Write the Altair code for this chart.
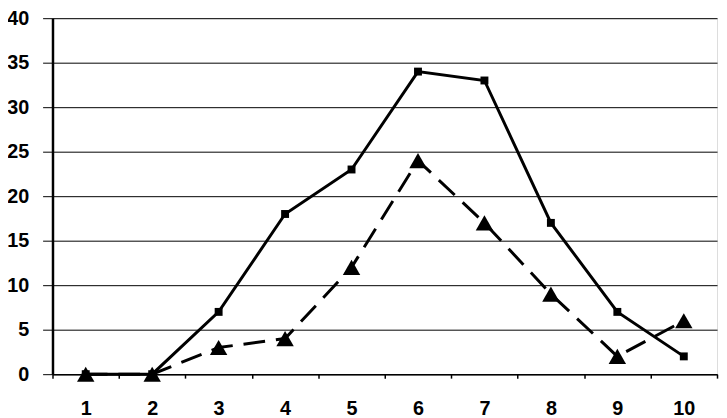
import altair as alt
import pandas as pd

cats = ["1", "2", "3", "4", "5", "6", "7", "8", "9", "10"]
solid_vals = [0, 0, 7, 18, 23, 34, 33, 17, 7, 2]
dashed_vals = [0, 0, 3, 4, 12, 24, 17, 9, 2, 6]
y_ticks = [0, 5, 10, 15, 20, 25, 30, 35, 40]

df_solid = pd.DataFrame({"x": cats, "y": solid_vals})
df_dashed = pd.DataFrame({"x": cats, "y": dashed_vals})

FONT = "Liberation Sans"

x_enc = alt.X(
    "x:O",
    sort=cats,
    scale=alt.Scale(paddingInner=0, paddingOuter=0),
    axis=alt.Axis(
        title=None,
        labelAngle=0,
        labelFont=FONT,
        labelFontSize=20,
        labelFontWeight="bold",
        labelColor="black",
        labelPadding=21,
        tickBand="extent",
        tickSize=4,
        tickColor="black",
        tickWidth=1.5,
        domainColor="black",
        domainWidth=1.5,
        grid=False,
    ),
)
y_enc = alt.Y(
    "y:Q",
    scale=alt.Scale(domain=[0, 40], nice=False),
    axis=alt.Axis(
        title=None,
        values=y_ticks,
        labelFont=FONT,
        labelFontSize=20,
        labelFontWeight="bold",
        labelColor="black",
        labelPadding=14,
        tickSize=10,
        tickColor="black",
        tickWidth=1,
        domainColor="black",
        domainWidth=2.5,
        grid=True,
        gridColor="black",
        gridWidth=1,
        gridOpacity=1,
    ),
)

solid_line = alt.Chart(df_solid).mark_line(
    color="black", strokeWidth=3
).encode(x=x_enc, y=y_enc)
solid_pts = alt.Chart(df_solid).mark_point(
    shape="square", filled=True, color="black", size=64, opacity=1
).encode(x=x_enc, y=y_enc)

dashed_line = alt.Chart(df_dashed).mark_line(
    color="black", strokeWidth=3, strokeDash=[22, 11]
).encode(x=x_enc, y=y_enc)
dashed_pts = alt.Chart(df_dashed).mark_point(
    shape="triangle-up", filled=True, color="black", size=310, opacity=1
).encode(x=x_enc, y=y_enc)

chart = (
    alt.layer(solid_line, solid_pts, dashed_line, dashed_pts)
    .properties(
        width=672,
        height=360,
        autosize=alt.AutoSizeParams(type="none"),
        padding={"left": 45, "top": 8, "right": 2, "bottom": 42},
    )
    .configure_view(stroke="black", strokeWidth=2)
    .configure(background="white")
)

chart.save("out.html", embed_options={"renderer": "svg", "actions": False})
